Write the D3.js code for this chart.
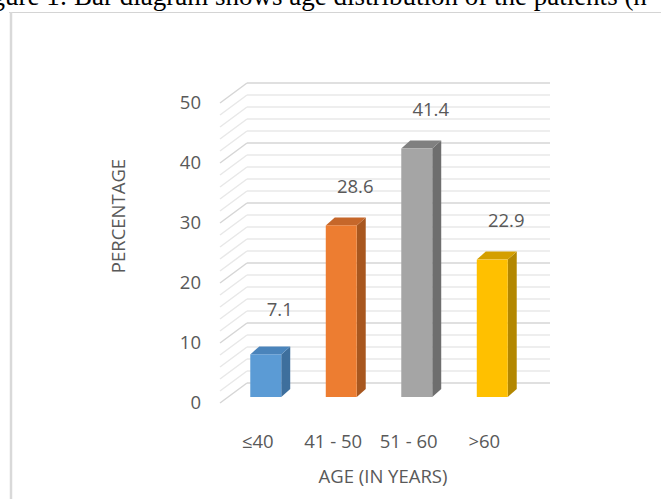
<!DOCTYPE html>
<head>
  <meta charset="utf-8">
  <script src="https://d3js.org/d3.v7.min.js"></script>
  <style>
    body { margin: 0; background: white; }
    svg { display: block; }
    .lbl { font-family: 'Open Sans', sans-serif; fill: #595959; font-size: 18.5px; }
  </style>
</head>

<body>
  <svg width="661" height="499"></svg>

  <script>
    // data
    const categories = ['\u226440', '41 - 50', '51 - 60', '>60'];
    const percentages = [7.1, 28.6, 41.4, 22.9];
    const yTicks = [0, 10, 20, 30, 40, 50];
    const barColors = [
      { front: '#5b9bd5', side: '#3e6f9d', top: '#4a84bb' },
      { front: '#ed7d31', side: '#a8571f', top: '#c6672a' },
      { front: '#a5a5a5', side: '#6e6e6e', top: '#808080' },
      { front: '#ffc000', side: '#b38700', top: '#d49f00' }
    ];

    const svg = d3.select('svg');

    // caption cut at top of the page + frame
    svg.append('text')
      .attr('x', -31).attr('y', 5)
      .style('font-family', "'Liberation Serif', serif")
      .style('font-size', '27px')
      .attr('fill', '#000')
      .text('Figure 1: Bar diagram shows age distribution of the patients (n=70)');
    svg.append('line').attr('x1', 9).attr('x2', 661).attr('y1', 12.5).attr('y2', 12.5)
      .attr('stroke', '#d4d4d4').attr('stroke-width', 1);
    svg.append('line').attr('x1', 11).attr('x2', 11).attr('y1', 12).attr('y2', 499)
      .attr('stroke', '#d9d9d9').attr('stroke-width', 2.5);

    // scales
    const x = d3.scaleBand().domain(categories).range([228, 530]).paddingInner(0.59).paddingOuter(0.295);
    const y = d3.scaleLinear().domain([0, 50]).range([397, 97]);
    const depth = { dx: 9, dy: -8 };
    const wall = { x0: 247, x1: 550, dy: -14 };   // back wall offset from bar base
    const front = { x: 220, dy: 6 };              // front floor edge

    // gridlines (every 2, darker every 10)
    const grid = d3.range(0, 51, 2);
    const gg = svg.append('g');
    grid.forEach(v => {
      const col = v % 10 === 0 ? '#d6d6d6' : '#e8e8e8';
      const yb = y(v) + wall.dy, yf = y(v) + front.dy;
      gg.append('line').attr('x1', wall.x0).attr('x2', wall.x1).attr('y1', yb).attr('y2', yb)
        .attr('stroke', col).attr('stroke-width', 1.5);
      gg.append('line').attr('x1', front.x).attr('x2', wall.x0).attr('y1', yf).attr('y2', yb)
        .attr('stroke', col).attr('stroke-width', 1.5);
    });

    // y tick labels
    svg.append('g').selectAll('text').data(yTicks).join('text')
      .attr('class', 'lbl')
      .attr('x', 201).attr('y', v => y(v) + front.dy)
      .attr('dy', '0.35em').attr('text-anchor', 'end')
      .text(d => d);

    // bars
    const bars = svg.append('g').selectAll('g').data(percentages).join('g');
    const bw = x.bandwidth();
    bars.append('path')
      .attr('fill', (d, i) => barColors[i].side)
      .attr('d', (d, i) => {
        const x1 = x(categories[i]) + bw;
        return `M${x1},${y(0)}L${x1 + depth.dx},${y(0) + depth.dy}L${x1 + depth.dx},${y(d) + depth.dy}L${x1},${y(d)}Z`;
      });
    bars.append('path')
      .attr('fill', (d, i) => barColors[i].top)
      .attr('d', (d, i) => {
        const x0 = x(categories[i]);
        const yt = y(d);
        return `M${x0},${yt}L${x0 + bw},${yt}L${x0 + bw + depth.dx},${yt + depth.dy}L${x0 + depth.dx},${yt + depth.dy}Z`;
      });
    bars.append('rect')
      .attr('fill', (d, i) => barColors[i].front)
      .attr('x', (d, i) => x(categories[i]))
      .attr('y', d => y(d))
      .attr('width', bw)
      .attr('height', d => y(0) - y(d));

    // value labels
    bars.append('text')
      .attr('class', 'lbl')
      .attr('x', (d, i) => x(categories[i]) + bw / 2 + 14)
      .attr('y', (d, i) => y(d) - (i === 0 ? 45 : 39))
      .attr('dy', '0.35em').attr('text-anchor', 'middle')
      .text(d => d.toFixed(1));

    // category labels
    svg.append('g').selectAll('text').data(categories).join('text')
      .attr('class', 'lbl')
      .attr('x', d => x(d) + bw / 2 - 8)
      .attr('y', 442)
      .attr('dy', '0.35em').attr('text-anchor', 'middle')
      .text(d => d);

    // axis titles
    svg.append('text').attr('class', 'lbl')
      .attr('x', 383).attr('y', 483)
      .attr('text-anchor', 'middle')
      .text('AGE (IN YEARS)');
    svg.append('text').attr('class', 'lbl')
      .attr('transform', 'translate(119,216) rotate(-90)')
      .attr('dy', '0.35em').attr('text-anchor', 'middle')
      .text('PERCENTAGE');
  </script>
</body>
